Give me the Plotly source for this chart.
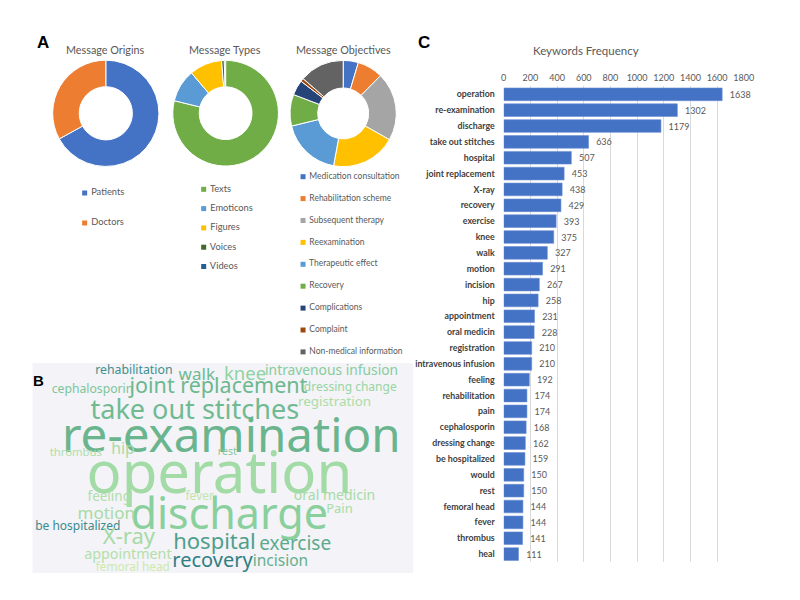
import plotly.graph_objects as go

# ---------------- data ----------------
origin_labels = ["Patients", "Doctors"]
origin_values = [67, 33]
origin_colors = ["#4472C4", "#ED7D31"]

type_labels = ["Texts", "Emoticons", "Figures", "Voices", "Videos"]
type_values = [78.8, 10.0, 10.0, 0.8, 0.4]
type_colors = ["#70AD47", "#5B9BD5", "#FFC000", "#43682B", "#255E91"]

objective_labels = ["Medication consultation", "Rehabilitation scheme", "Subsequent therapy",
                    "Reexamination", "Therapeutic effect", "Recovery", "Complications",
                    "Complaint", "Non-medical information"]
objective_values = [4.6, 7.8, 20.8, 19.7, 18.3, 9.6, 4.6, 1.0, 13.6]
objective_colors = ["#4472C4", "#ED7D31", "#A5A5A5", "#FFC000", "#5B9BD5", "#70AD47",
                    "#264478", "#9E480E", "#636363"]

keywords = ["operation", "re-examination", "discharge", "take out stitches", "hospital",
            "joint replacement", "X-ray", "recovery", "exercise", "knee", "walk", "motion",
            "incision", "hip", "appointment", "oral medicin", "registration",
            "intravenous infusion", "feeling", "rehabilitation", "pain", "cephalosporin",
            "dressing change", "be hospitalized", "would", "rest", "femoral head", "fever",
            "thrombus", "heal"]
keyword_freq = [1638, 1302, 1179, 636, 507, 453, 438, 429, 393, 375, 327, 291, 267, 258,
                231, 228, 210, 210, 192, 174, 174, 168, 162, 159, 150, 150, 144, 144, 141, 111]
freq_ticks = [0, 200, 400, 600, 800, 1000, 1200, 1400, 1600, 1800]

cloud_words = ["rehabilitation", "walk", "knee", "intravenous infusion", "cephalosporin",
               "joint replacement", "dressing change", "registration", "take out stitches",
               "re-examination", "thrombus", "hip", "rest", "operation", "feeling", "fever",
               "oral medicin", "discharge", "Pain", "motion", "be hospitalized", "X-ray",
               "hospital", "exercise", "appointment", "recovery", "incision", "femoral head"]

# ---------------- layout / style of the word cloud ----------------
cloud_x = [133, 197, 246, 334, 91, 219, 353, 337, 195, 232, 74, 122, 228, 220, 108, 200,
           337, 230, 342, 105, 76, 128, 215, 297, 127, 213, 282, 132]
cloud_y = [371, 376, 375, 372, 390, 388, 388, 403, 412, 440, 453, 450, 452, 478, 498, 497,
           496, 518, 510, 515, 527, 538, 543, 545, 555, 562, 562, 568]
cloud_size = [12.3, 17, 18.5, 13.8, 12.2, 21.5, 12, 13.4, 27, 47.5, 11.3, 15.8, 10.5, 58,
              13.5, 12, 14, 43, 13, 17, 12, 22, 22, 19, 14.3, 20, 15.5, 11.8]
cloud_color = ["#3F8F8C", "#6DBB90", "#8ED3A0", "#86CD9C", "#7CC69A", "#6CB88F", "#97D5A2",
               "#ABDDA6", "#70BA92", "#6AB58D", "#B2DEA8", "#A7DBA6", "#88C7A0", "#A2DBA5",
               "#B0DEA8", "#C2E5AC", "#A8DBA6", "#8AD09D", "#A8DCA5", "#A7DBA5", "#3D8A8B",
               "#A5DAA5", "#4E9F8C", "#5CAB8D", "#B4E0A8", "#2F7F82", "#64B08E", "#CDEAAA"]

W, H = 800, 600
EXCEL_FONT = "Lato"
GRAY = "#595959"


def px_x(v):
    return v / W


def px_y(v):
    return 1 - v / H


fig = go.Figure()

# ---------------- donuts (panel A) ----------------
donuts = [
    (origin_labels, origin_values, origin_colors, (104.5, 113.3), 54, 0.5),
    (type_labels, type_values, type_colors, (226.3, 113.2), 53.7, 0.5),
    (objective_labels, objective_values, objective_colors, (345.8, 113.5), 54, 0.48),
]
for labels, values, colors, (cx, cy), r, hole in donuts:
    fig.add_trace(go.Pie(
        labels=labels, values=values, hole=hole, sort=False, direction="clockwise",
        rotation=0, textinfo="none", showlegend=False,
        marker=dict(colors=colors, line=dict(color="white", width=1)),
        domain=dict(x=[px_x(cx - r), px_x(cx + r)], y=[px_y(cy + r), px_y(cy - r)]),
    ))

# ---------------- custom legends for the donuts ----------------
legend_specs = [
    (origin_labels, origin_colors, 83, 193, 30, 9.3),
    (type_labels, type_colors, 204, 189.3, 19.3, 9.3),
    (objective_labels, objective_colors, 305, 176.7, 21.9, 8.5),
]
for labels, colors, x0, y0, step, fs in legend_specs:
    n = len(labels)
    fig.add_trace(go.Scatter(
        x=[x0] * n, y=[y0 + i * step for i in range(n)],
        mode="markers+text", text=[" " + l for l in labels], textposition="middle right",
        textfont=dict(family=EXCEL_FONT, size=fs, color=GRAY),
        marker=dict(symbol="square", size=5, color=colors),
        xaxis="x3", yaxis="y3", showlegend=False, hoverinfo="skip", cliponaxis=False,
    ))

# ---------------- word cloud (panel B) ----------------
fig.add_trace(go.Scatter(
    x=cloud_x, y=cloud_y, mode="text", text=cloud_words,
    textposition="middle center",
    textfont=dict(family="Noto Sans", size=cloud_size, color=cloud_color),
    xaxis="x2", yaxis="y2", showlegend=False, hoverinfo="skip", cliponaxis=False,
))

# ---------------- bar chart (panel C) ----------------
fig.add_trace(go.Bar(
    x=keyword_freq, y=keywords, orientation="h",
    marker=dict(color="#4472C4", line=dict(color="#6A8FD3", width=0.6)),
    width=0.8, text=[f"  {v}" for v in keyword_freq], textposition="outside",
    textfont=dict(family=EXCEL_FONT, size=9, color=GRAY), cliponaxis=False,
    showlegend=False, hoverinfo="skip",
))


def label(text, x, y, size, color=GRAY, family=EXCEL_FONT):
    return dict(text=text, x=px_x(x), y=px_y(y), xref="paper", yref="paper",
                xanchor="center", yanchor="middle", showarrow=False,
                font=dict(family=family, size=size, color=color))


fig.update_layout(
    width=W, height=H, margin=dict(l=0, r=0, t=0, b=0),
    paper_bgcolor="white", plot_bgcolor="rgba(0,0,0,0)",
    xaxis=dict(domain=[px_x(509), px_x(753)], range=[0, 1800], side="top",
               tickvals=freq_ticks, showgrid=True, gridcolor="#D9D9D9", gridwidth=1,
               zeroline=False, showline=False, ticks="",
               tickfont=dict(family=EXCEL_FONT, size=9, color=GRAY), ticklabelstandoff=3),
    yaxis=dict(domain=[px_y(562), px_y(86.4)], autorange="reversed", showgrid=False,
               ticks="", showline=False,
               tickfont=dict(family=EXCEL_FONT, size=8.8, color="#404040", weight="bold"),
               ticklabelstandoff=8),
    xaxis2=dict(domain=[px_x(30), px_x(417)], range=[30, 417], visible=False,
                anchor="y2"),
    yaxis2=dict(domain=[px_y(573), px_y(363)], range=[573, 363], visible=False,
                anchor="x2"),
    xaxis3=dict(domain=[px_x(60), px_x(420)], range=[60, 420], visible=False,
                anchor="y3"),
    yaxis3=dict(domain=[px_y(360), px_y(170)], range=[360, 170], visible=False,
                anchor="x3"),
    bargap=0.2,
    shapes=[dict(type="rect", xref="x2 domain", yref="y2 domain", x0=0, x1=1, y0=0, y1=1,
                 fillcolor="#F3F3F8", line=dict(width=0), layer="below")],
    annotations=[
        label("Message Origins", 104, 49, 10.8),
        label("Message Types", 226, 49, 10.8),
        label("Message Objectives", 346, 49, 10.8),
        label("Keywords Frequency", 593, 50, 11.5),
        label("<b>A</b>", 41, 42, 17, "black", "Liberation Sans"),
        label("<b>B</b>", 36, 380, 15, "black", "Liberation Sans"),
        label("<b>C</b>", 428, 43, 17, "black", "Liberation Sans"),
    ],
)

# remove the browser's default 8px body margin so the 800x600 figure fills the window
fig.write_html("out.html", config={"displayModeBar": False},
               post_script="document.body.style.margin='0';document.body.style.overflow='hidden';")
